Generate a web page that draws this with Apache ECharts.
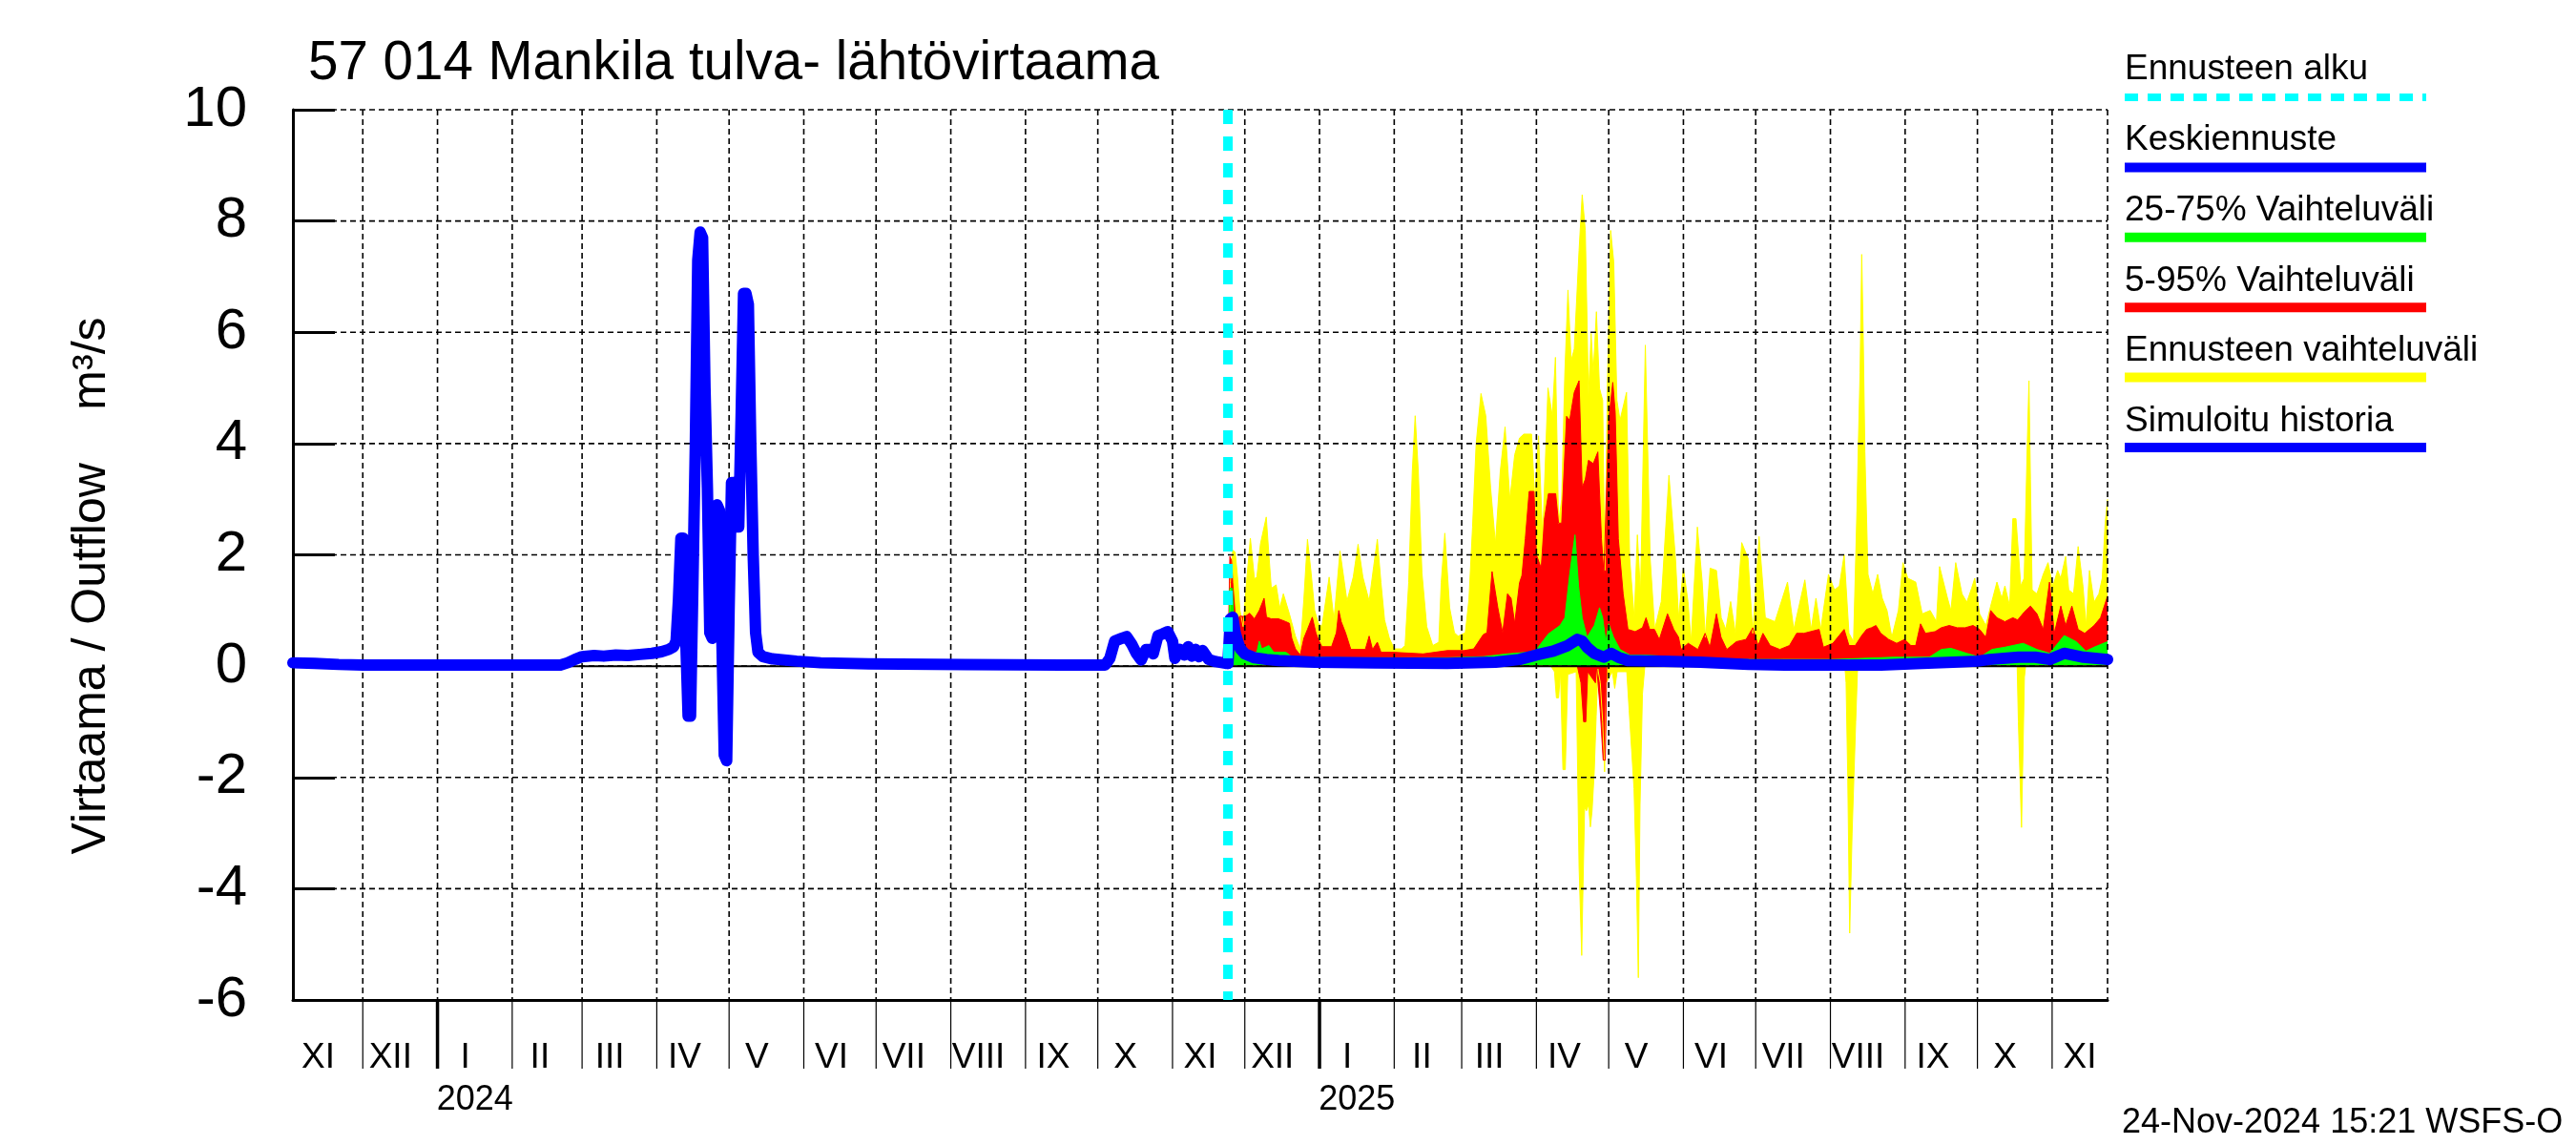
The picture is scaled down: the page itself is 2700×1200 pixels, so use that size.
<!DOCTYPE html>
<html><head><meta charset="utf-8">
<script src="https://cdn.jsdelivr.net/npm/echarts@6/dist/echarts.min.js"></script>
<style>html,body{margin:0;padding:0;background:#fff}#c{width:2700px;height:1200px}</style>
</head><body><div id="c"></div>
<script>
const FONT = '"Liberation Sans", Arial, Helvetica, sans-serif';
const titleText = '57 014 Mankila tulva- lähtövirtaama';
const yAxisTitle = 'Virtaama / Outflow    m³/s';
const footerText = '24-Nov-2024 15:21 WSFS-O';
const legendNames = ['Ennusteen alku','Keskiennuste','25-75% Vaihteluväli','5-95% Vaihteluväli','Ennusteen vaihteluväli','Simuloitu historia'];
const legendColors = ['#00ffff','#0000ff','#00ff00','#ff0000','#ffff00','#0000ff'];

// x values: days since 2023-11-01
const BASE = Date.UTC(2023, 10, 1);
const axisStartDay = 1;      // 2023-11-02
const axisEndDay = 754;      // 2025-11-24
const forecastStartDay = 389; // 2024-11-24
const yMin = -6, yMax = 10, yStep = 2;
const yTicks = [-6,-4,-2,0,2,4,6,8,10];
const monthNames = ['XI','XII','I','II','III','IV','V','VI','VII','VIII','IX','X','XI','XII','I','II','III','IV','V','VI','VII','VIII','IX','X','XI'];
const yearLabels = [['2024', 2], ['2025', 14]]; // [text, month index]

// Simulated history (Simuloitu historia)
const simHistory = [[1,0.06],[10,0.05],[20,0.03],[30,0.02],[60,0.02],[90,0.02],[112,0.02],[115,0.06],[118,0.12],[121,0.17],[126,0.19],[130,0.18],[135,0.2],[140,0.19],[145,0.21],[150,0.23],[154,0.26],[157,0.3],[159,0.35],[160,0.45],[161,1.2],[162,2.3],[163,2.3],[164,0.5],[165,-0.9],[166,-0.9],[167,1.5],[168,4.0],[169,7.3],[170,7.8],[171,7.7],[172,5.0],[173,3.2],[174,0.6],[175,0.5],[176,2.8],[177,2.9],[178,2.8],[179,0.5],[180,-1.6],[181,-1.7],[182,1.0],[183,3.3],[184,3.3],[185,2.5],[186,2.5],[187,4.5],[188,6.7],[189,6.7],[190,6.5],[191,4.0],[192,2.0],[193,0.6],[194,0.25],[196,0.17],[200,0.13],[210,0.09],[220,0.06],[240,0.04],[280,0.03],[320,0.02],[338,0.02],[340,0.14],[342,0.45],[345,0.5],[347,0.53],[349,0.4],[351,0.23],[353,0.11],[355,0.3],[357,0.3],[358,0.22],[360,0.55],[362,0.58],[364,0.62],[366,0.45],[367,0.14],[369,0.3],[371,0.2],[372.5,0.35],[374,0.18],[375.5,0.3],[377,0.17],[378.5,0.28],[381,0.12],[384,0.08],[388,0.05],[389,0.05]];

// Median forecast (Keskiennuste)
const medianForecast = [[389,0.05],[390,0.85],[391,0.88],[392,0.6],[393,0.45],[394,0.32],[396,0.22],[400,0.15],[405,0.12],[410,0.1],[425,0.07],[450,0.06],[480,0.05],[500,0.07],[510,0.12],[517,0.2],[524,0.27],[530,0.37],[534,0.48],[536,0.45],[538,0.34],[541,0.23],[545,0.16],[548,0.23],[551,0.16],[555,0.1],[570,0.09],[585,0.07],[605,0.03],[620,0.02],[660,0.02],[677,0.05],[690,0.07],[700,0.09],[705,0.12],[717,0.16],[724,0.16],[730,0.12],[736,0.23],[744,0.16],[754,0.12]];

// Total forecast range (Ennusteen vaihteluväli): upper and lower edge
const yellowHigh = [[389,0.05],[390,1.5],[391,2.08],[392,2.05],[393,1.6],[394,1.0],[395.3,0.71],[396.5,1.4],[398.3,2.3],[399,2.0],[400,1.57],[401,1.6],[402.5,2.2],[404.9,2.68],[406,2.0],[407,1.4],[409,1.46],[410.5,1.05],[412,1.3],[414.5,0.94],[417,0.54],[419,0.31],[420.5,1.2],[422,2.28],[423.5,1.68],[425,1.0],[426.5,0.77],[428,0.71],[431,1.6],[433,0.83],[435.5,2.07],[438.4,1.17],[441,1.6],[443,2.19],[445,1.6],[447.6,1.17],[449.5,1.8],[451,2.28],[452.5,1.5],[454,0.83],[456,0.5],[458,0.31],[461,0.31],[462.5,0.37],[464,1.5],[465.5,3.5],[466.7,4.5],[468,3.5],[469.5,1.68],[471.5,0.71],[474,0.37],[476.5,0.43],[477.5,1.5],[479,2.39],[481,1.05],[483,0.6],[484.5,0.54],[487.5,0.6],[489,1.2],[490.5,2.5],[492,4.0],[494,4.9],[496,4.5],[498,3.2],[500,2.2],[502,3.5],[504,4.3],[506,3.0],[508,3.8],[510,4.1],[511.8,4.17],[515,4.17],[516.3,3.0],[517.9,4.14],[519.6,2.3],[521.8,5.0],[523.6,4.5],[524.9,5.55],[526.2,2.57],[527.5,3.0],[528.8,5.27],[530.1,6.76],[531.4,5.49],[532.7,5.7],[534.7,7.47],[536,8.47],[537.3,7.83],[538.6,4.85],[539.7,5.98],[540.6,5.27],[541.9,6.37],[543.2,4.99],[544.5,4.78],[545.4,1.72],[546.5,5.13],[547.8,7.83],[549.1,7.26],[550.4,4.78],[551.7,4.42],[554.4,4.92],[555.7,1.94],[557.6,0.87],[558.9,2.36],[560.2,1.3],[562.2,5.77],[564.2,1.94],[566.1,0.66],[568.8,1.16],[572,3.43],[574.7,1.94],[576,0.87],[578,1.76],[579.9,1.16],[581.2,0.44],[583.8,2.5],[585.8,1.51],[587.1,0.52],[589.1,1.76],[591.7,1.72],[593.7,0.87],[595.6,0.66],[597.6,1.16],[599.6,0.59],[602.2,2.22],[604.8,1.94],[606.8,0.59],[609.4,2.33],[612,0.87],[616,0.8],[621.2,1.51],[623.8,0.66],[628.4,1.55],[631,0.66],[633,1.22],[635,0.66],[638.2,1.65],[640.7,1.37],[642.7,1.44],[644.7,2.0],[646.7,0.59],[648.6,0.44],[650,2.79],[650.6,4.0],[651.3,5.27],[652,7.4],[652.6,5.98],[653.3,3.85],[654.6,1.65],[656.6,1.3],[658.6,1.65],[660.5,1.22],[662.5,1.0],[664.5,0.52],[667.2,1.0],[669.1,1.86],[671.1,1.58],[674.4,1.51],[677.1,0.94],[680.4,1.0],[683,0.8],[684.3,1.79],[687.6,1.22],[689,1.0],[691,1.86],[693.6,1.3],[695.6,1.15],[697.6,1.4],[698.9,1.58],[700.9,0.94],[703.5,0.73],[705.5,1.08],[708.1,1.51],[710.1,1.22],[711.4,1.44],[713.4,1.08],[714.7,2.65],[716,2.65],[718,1.44],[719.4,1.58],[720.7,4.0],[721.4,5.13],[722,3.36],[722.7,1.37],[724.7,1.3],[727.3,1.65],[729.3,1.86],[731.3,1.44],[733.3,1.72],[734.6,1.58],[736.6,1.97],[737.9,1.37],[739.9,1.3],[741.8,2.15],[743.8,1.44],[745.1,0.73],[746.5,1.72],[748.4,1.15],[750.4,1.3],[751.8,1.58],[753,2.57],[754,3.0]];
const yellowLow = [[389,0],[523,0],[524.5,-0.1],[525.3,-0.57],[526.2,-0.57],[527,-0.1],[528,-1.86],[529,-1.86],[530,-0.15],[533.5,-0.1],[534.7,-3.6],[535.8,-5.2],[536.2,-4.26],[537,-2.54],[537.8,-2.6],[538.6,-2.49],[539.4,-2.89],[540.1,-2.6],[541,-1.9],[541.8,-0.9],[542.5,-0.05],[543.5,-0.3],[544.5,-1.0],[545.3,-1.9],[546,-0.3],[548.5,-0.1],[549.5,-0.4],[550.5,-0.1],[554.5,-0.1],[555.5,-0.8],[556.5,-1.5],[557.5,-2.2],[558.5,-3.8],[559.3,-5.6],[560,-2.5],[561,-0.5],[562,0],[645,0],[645.5,-0.3],[646.2,-2.0],[647,-4.8],[648,-3.0],[649.5,-1.0],[650.3,0],[716.5,0],[717,-1.0],[718.3,-2.9],[719.5,-0.2],[720,0],[754,0]];

// 5-95% range
const redHigh = [[389,0.05],[389.8,1.97],[390.5,1.9],[391,1.5],[392,0.94],[393,0.85],[394,0.9],[396,0.89],[398,0.95],[400,0.85],[402,1.0],[404,1.22],[405,0.88],[407,0.85],[410,0.85],[413,0.8],[414.5,0.77],[415.5,0.5],[417,0.31],[419,0.2],[420.5,0.5],[422,0.66],[424,0.88],[425.5,0.6],[426.5,0.48],[428,0.35],[432,0.35],[434,0.6],[435,1.0],[436,0.8],[437.8,0.6],[440,0.3],[446,0.3],[447.6,0.54],[449,0.3],[451,0.43],[452.5,0.25],[457,0.25],[470,0.22],[480,0.28],[487,0.28],[491,0.31],[495,0.57],[496.5,0.6],[498.6,1.7],[499.3,1.71],[501,1.05],[503,0.6],[505,1.3],[506.5,1.22],[508,0.77],[510,1.5],[511,1.63],[512.4,2.29],[514,3.14],[516,3.14],[517,2.0],[519,1.76],[520.3,2.64],[522,3.1],[525,3.1],[526.2,2.57],[527.5,2.57],[529.5,4.49],[530.8,4.42],[532.7,4.92],[534.7,5.13],[536,3.21],[537.3,3.36],[538.6,3.7],[540.6,3.64],[542.5,3.85],[544,2.29],[545,1.65],[547,4.42],[548.7,5.1],[549.7,4.56],[551,2.29],[553,1.3],[555,0.66],[558,0.62],[561,0.69],[562.5,0.87],[564,0.66],[566,0.66],[568,0.48],[571.4,0.94],[574,0.66],[576,0.52],[577,0.3],[580,0.41],[584,0.3],[587,0.59],[589,0.34],[591.7,0.94],[593.6,0.52],[596,0.3],[600,0.44],[604,0.48],[606.8,0.69],[609,0.37],[611,0.59],[614,0.37],[618,0.3],[622,0.37],[625,0.59],[628,0.59],[634.3,0.66],[636.1,0.34],[640,0.41],[644.7,0.66],[646.7,0.37],[649.3,0.37],[652,0.55],[654,0.66],[656,0.69],[657.9,0.73],[659.9,0.59],[663.2,0.48],[666.5,0.41],[669.8,0.48],[672.4,0.37],[674.4,0.37],[676.4,0.76],[678.4,0.59],[682.4,0.62],[685,0.69],[688.3,0.73],[691.6,0.69],[694.9,0.69],[698.2,0.73],[700.9,0.66],[703.5,0.52],[705.5,1.0],[708.1,0.87],[711.4,0.8],[714.7,0.87],[716.7,0.83],[719.4,0.97],[722,1.08],[724.7,0.94],[727.3,0.66],[729.9,1.51],[731.9,0.59],[734.6,1.08],[736.6,0.73],[739.2,1.08],[741.8,0.66],[744.5,0.59],[748.4,0.73],[751.1,0.87],[754,1.26]];
const redLow = [[389,0],[534,0],[535.5,-0.3],[536.6,-1.0],[537.5,-1.0],[538.3,-0.1],[541.5,-0.3],[542,0],[543.5,-0.8],[544.7,-1.69],[545.6,-1.69],[546.2,0],[754,0]];

// 25-75% range (upper edge; lower edge lies at about 0)
const greenHigh = [[389,0.05],[389.8,1.4],[390.8,1.4],[391.5,0.8],[393,0.37],[396,0.25],[401,0.25],[402,0.45],[403,0.31],[406,0.37],[408,0.25],[413,0.25],[415.5,0.17],[440,0.15],[480,0.15],[495,0.17],[505,0.22],[513.5,0.25],[517,0.3],[522,0.58],[526.8,0.73],[528.8,0.87],[530.8,1.65],[533,2.36],[534.5,1.44],[536,0.87],[538,0.52],[541,0.73],[543.2,1.05],[544.5,0.87],[545.8,0.44],[547,0.76],[549,0.52],[551.7,0.3],[555.7,0.2],[562,0.2],[575,0.16],[600,0.12],[640,0.12],[665,0.16],[680,0.16],[685,0.3],[689,0.32],[695.6,0.23],[701,0.16],[706,0.3],[711.4,0.34],[719,0.41],[724.7,0.3],[730,0.23],[736,0.55],[741,0.44],[745,0.27],[748.4,0.34],[754,0.44]];

// ---- calendar helpers (tick positions) ----
function dayOf(y, m, d) { return (Date.UTC(y, m, d) - BASE) / 86400000; }
const monthStarts = monthNames.map((_, i) => dayOf(2023, 10 + i, 1));
const monthLabelDays = monthNames.map((_, i) => dayOf(2023, 10 + i, 12) + 0.5);

const chart = echarts.init(document.getElementById('c'), null, {renderer: 'canvas'});

function area(name, data, color) {
  return {type: 'line', name, data, symbol: 'none', z: 2, silent: true,
    lineStyle: {color, width: 1}, areaStyle: {color, opacity: 1}};
}

const vGridData = monthStarts.filter(d => d > axisStartDay && d < axisEndDay)
  .map(d => [d, 0, (new Date(BASE + d * 86400000).getUTCMonth() === 0) ? 1 : 0, 1])
  .concat([[axisEndDay, 0, 0, 0]]);

const GRID_DASH = [6, 4];
const option = {
  backgroundColor: '#fff',
  animation: false,
  grid: {left: 307, right: 491, top: 115, bottom: 152},
  xAxis: {type: 'value', min: axisStartDay, max: axisEndDay,
    axisLine: {show: true, onZero: false, lineStyle: {color: '#000', width: 3}},
    axisTick: {show: false}, axisLabel: {show: false}, splitLine: {show: false}},
  yAxis: {type: 'value', min: yMin, max: yMax, interval: yStep,
    axisLine: {show: true, onZero: false, lineStyle: {color: '#000', width: 3}},
    axisTick: {show: true, inside: true, length: 44, lineStyle: {color: '#000', width: 3}},
    axisLabel: {fontSize: 60, color: '#000', margin: 48, fontFamily: FONT},
    splitLine: {show: false}},
  graphic: [
    {type: 'text', x: 323, y: 67, style: {text: titleText, fontSize: 56.5, fontFamily: FONT, fill: '#000', align: 'left', verticalAlign: 'middle'}},
    {type: 'text', x: 96, y: 614, rotation: Math.PI / 2, style: {text: yAxisTitle, fontSize: 50, fontFamily: FONT, fill: '#000', align: 'center', verticalAlign: 'middle'}},
    {type: 'text', x: 2224, y: 1177, style: {text: footerText, fontSize: 36, fontFamily: FONT, fill: '#000', align: 'left', verticalAlign: 'middle'}}
  ].concat(legendNames.flatMap((n, i) => [
    {type: 'text', x: 2227, y: 73 + i * 73.8, style: {text: n, fontSize: 37, fontFamily: FONT, fill: '#000', align: 'left', verticalAlign: 'middle'}},
    {type: 'line', shape: {x1: 2227, y1: 102 + i * 73.4, x2: 2543, y2: 102 + i * 73.4},
      style: {stroke: legendColors[i], lineWidth: i === 0 ? 8 : 10, lineDash: i === 0 ? [14, 10] : null}}
  ])),
  series: [
    area('Ennusteen vaihteluväli', yellowHigh, '#ffff00'),
    area('Ennusteen vaihteluväli low', yellowLow, '#ffff00'),
    area('5-95% Vaihteluväli', redHigh, '#ff0000'),
    area('5-95% Vaihteluväli low', redLow, '#ff0000'),
    area('25-75% Vaihteluväli', greenHigh, '#00ff00'),
    { // vertical dashed month grid + ticks under the axis
      type: 'custom', z: 3, silent: true, clip: false, data: vGridData,
      encode: {x: 0, y: 1},
      renderItem(params, api) {
        const d = api.value(0);
        const t = api.coord([d, yMax]), b = api.coord([d, yMin]);
        const ch = [{type: 'line', shape: {x1: t[0], y1: t[1], x2: b[0], y2: b[1]},
          style: {stroke: '#000', lineWidth: 1.6, lineDash: GRID_DASH}}];
        if (api.value(3) === 1) ch.push({type: 'line', shape: {x1: b[0], y1: b[1], x2: b[0], y2: b[1] + 72},
          style: {stroke: '#000', lineWidth: api.value(2) === 1 ? 3.5 : 1.2}});
        return {type: 'group', children: ch};
      }
    },
    { // horizontal dashed grid
      type: 'custom', z: 3, silent: true, clip: false,
      data: yTicks.filter(v => v > yMin).map(v => [axisStartDay, v]),
      encode: {x: 0, y: 1},
      renderItem(params, api) {
        const v = api.value(1);
        const a = api.coord([axisStartDay, v]), b = api.coord([axisEndDay, v]);
        return {type: 'line', shape: {x1: a[0], y1: a[1], x2: b[0], y2: b[1]},
          style: {stroke: '#000', lineWidth: 1.6, lineDash: GRID_DASH}};
      }
    },
    { // zero line
      type: 'custom', z: 4, silent: true, clip: false, data: [[axisStartDay, 0]],
      encode: {x: 0, y: 1},
      renderItem(params, api) {
        const a = api.coord([axisStartDay, 0]), b = api.coord([axisEndDay, 0]);
        return {type: 'line', shape: {x1: a[0], y1: a[1], x2: b[0], y2: b[1]}, style: {stroke: '#000', lineWidth: 2}};
      }
    },
    { // month labels
      type: 'custom', z: 3, silent: true, clip: false,
      data: monthLabelDays.map((d, i) => [d, yMin, i]), encode: {x: 0, y: 1},
      renderItem(params, api) {
        const p = api.coord([api.value(0), yMin]);
        return {type: 'text', x: p[0], y: p[1] + 61, style: {text: monthNames[api.value(2)], fontSize: 37, fontFamily: FONT, fill: '#000', align: 'center', verticalAlign: 'middle'}};
      }
    },
    { // year labels
      type: 'custom', z: 3, silent: true, clip: false,
      data: yearLabels.map((y, i) => [monthStarts[y[1]] + 15.5, yMin, i]), encode: {x: 0, y: 1},
      renderItem(params, api) {
        const p = api.coord([api.value(0), yMin]);
        return {type: 'text', x: p[0], y: p[1] + 105, style: {text: yearLabels[api.value(2)][0], fontSize: 36, fontFamily: FONT, fill: '#000', align: 'center', verticalAlign: 'middle'}};
      }
    },
    {type: 'line', name: 'Simuloitu historia', data: simHistory, symbol: 'none', z: 5, silent: true,
      lineStyle: {color: '#0000ff', width: 12, cap: 'round', join: 'round'}},
    {type: 'line', name: 'Keskiennuste', data: medianForecast, symbol: 'none', z: 5, silent: true,
      lineStyle: {color: '#0000ff', width: 12, cap: 'round', join: 'round'}},
    { // forecast start
      type: 'custom', z: 6, silent: true, clip: false, data: [[forecastStartDay, 0]], encode: {x: 0, y: 1},
      renderItem(params, api) {
        const t = api.coord([forecastStartDay, yMax]), b = api.coord([forecastStartDay, yMin]);
        return {type: 'line', shape: {x1: t[0], y1: t[1], x2: b[0], y2: b[1]},
          style: {stroke: '#00ffff', lineWidth: 10, lineDash: [15, 13]}};
      }
    }
  ]
};
chart.setOption(option);
</script>
</body></html>
